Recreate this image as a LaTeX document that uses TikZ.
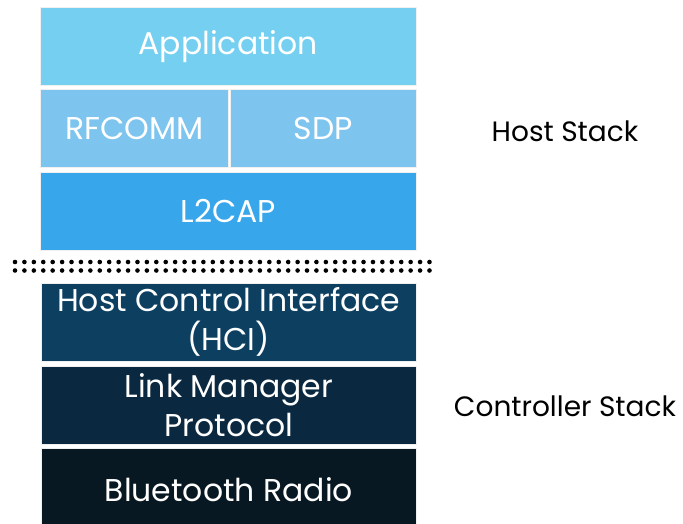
\documentclass[tikz,border=0pt]{standalone}
\usepackage{fontspec}
\setmainfont{Poppins}
\usetikzlibrary{positioning}
\definecolor{appblue}{HTML}{75CFF0}
\definecolor{midblue}{HTML}{7DC4EE}
\definecolor{l2blue}{HTML}{38A6EA}
\definecolor{hciblue}{HTML}{0D3F61}
\definecolor{lmpblue}{HTML}{0A2840}
\definecolor{radioblue}{HTML}{081822}
\begin{document}
\begin{tikzpicture}[x=1pt,y=-1pt,
  layer/.style={draw=white!88!gray, line width=0.6pt, text=white, anchor=north west,
    inner sep=0pt, align=center, minimum height=78pt,
    font=\fontsize{31.5}{39}\selectfont},
  side/.style={font=\fontsize{28}{32}\selectfont}]
\useasboundingbox (0,0) rectangle (683,523);
% host stack
\node[layer, fill=appblue, minimum width=376pt] (app) at (40,7) {Application};
\node[layer, fill=midblue, minimum width=188pt] (rfcomm) at (40,89) {RFCOMM};
\node[layer, fill=midblue, minimum width=186pt] (sdp) at (230,89) {SDP};
\node[layer, fill=l2blue, minimum width=376pt] (l2cap) at (40,172) {L2CAP};
% dotted separator
\foreach \x in {0,...,44}
\foreach \y in {262,270.5}
	\fill (15+\x*9.42,\y) circle (2.3pt);
% controller stack
\node[layer, fill=hciblue, minimum width=375pt] (hci) at (41,283) {Host Control Interface\\(HCI)};
\node[layer, fill=lmpblue, minimum width=375pt] (lmp) at (41,366) {Link Manager\\Protocol};
\node[layer, fill=radioblue, minimum width=375pt, minimum height=82pt] (radio) at (41,448) {Bluetooth Radio};
\node[side] (host) at (565,131) {Host Stack};
\node[side] (ctrl) at (565,406) {Controller Stack};
\end{tikzpicture}
\end{document}
